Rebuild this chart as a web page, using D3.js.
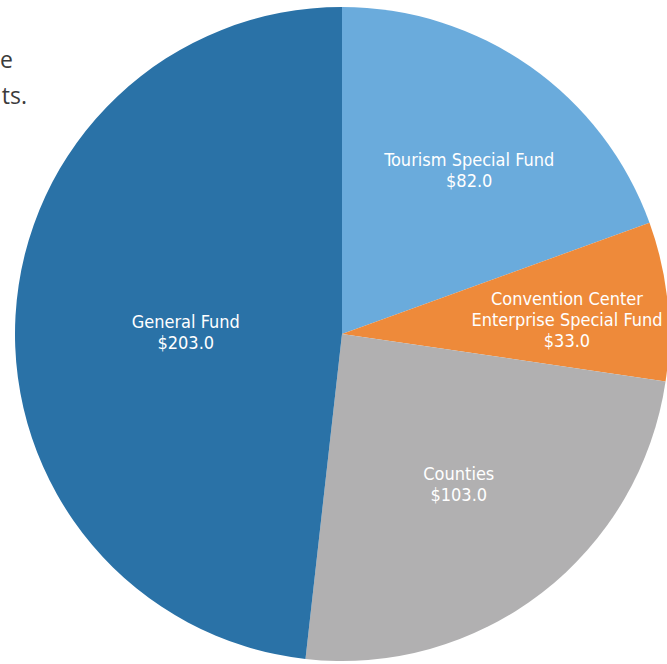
<!DOCTYPE html>
<html>
<head>
<meta charset="utf-8">
<script src="https://cdn.jsdelivr.net/npm/d3@7"></script>
<style>
  body { margin: 0; background: #fff; }
  svg { display: block; }
</style>
</head>
<body>
<div class="chart"></div>
<script>
// data (millions)
const names = [
  ['Tourism Special Fund'],
  ['Convention Center', 'Enterprise Special Fund'],
  ['Counties'],
  ['General Fund'],
];
const values = [82.0, 33.0, 103.0, 203.0];
const colors = ['#6aabdc', '#ee8a3a', '#b1b0b1', '#2a72a7'];

const width = 667, height = 664;
const cx = 342, cy = 334, radius = 327;
// label distance from centre, as a share of the radius
const labelPos = [0.64, 0.67, 0.55, 0.5];

const svg = d3.select('.chart').append('svg')
  .attr('width', width)
  .attr('height', height);

// cut-off paragraph text on the left
const para = svg.append('g')
  .attr('font-family', 'Open Sans, sans-serif')
  .attr('font-size', 23)
  .attr('fill', '#3b3b3b')
  .attr('text-anchor', 'end');
para.append('text').attr('x', 13).attr('y', 68).text('e');
para.append('text').attr('x', 27).attr('y', 104).text('ts.');

const pie = d3.pie().sort(null).value(d => d);
const arcs = pie(values);

const arc = d3.arc().innerRadius(0).outerRadius(radius);

const g = svg.append('g')
  .attr('transform', `translate(${cx},${cy})`);

g.selectAll('path.slice')
  .data(arcs)
  .enter().append('path')
  .attr('class', 'slice')
  .attr('d', arc)
  .attr('fill', (d, i) => colors[i]);

// labels
const labels = g.selectAll('g.label')
  .data(arcs)
  .enter().append('g')
  .attr('class', 'label')
  .attr('transform', (d, i) => {
    const r = radius * labelPos[i];
    const c = d3.arc().innerRadius(r).outerRadius(r).centroid(d);
    return `translate(${c[0] + 7},${c[1] + 2})`;
  });

labels.each(function (d, i) {
  const lines = names[i].concat(['$' + values[i].toFixed(1)]);
  const t = d3.select(this).append('text')
    .attr('text-anchor', 'middle')
    .attr('font-family', 'DejaVu Sans Condensed, sans-serif')
    .attr('font-size', 18)
    .attr('fill', '#fff');
  const lh = 21;
  const top = -(lines.length - 1) * lh / 2 + 12;
  lines.forEach((s, k) => {
    t.append('tspan').attr('x', 0).attr('y', top + k * lh).text(s);
  });
});
</script>
</body>
</html>
